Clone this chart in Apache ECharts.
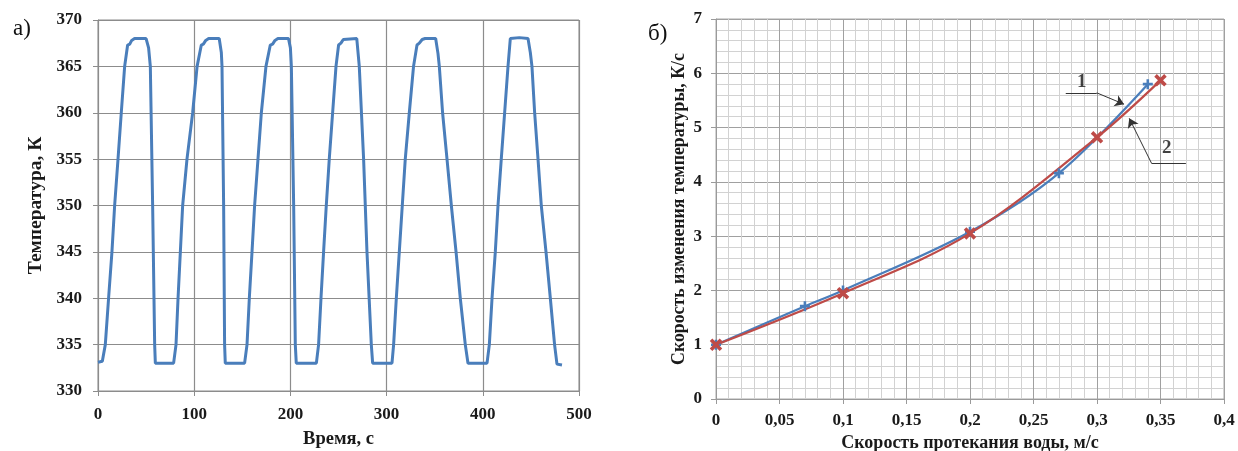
<!DOCTYPE html>
<html>
<head>
<meta charset="utf-8">
<script src="https://cdn.jsdelivr.net/npm/echarts@6/dist/echarts.min.js"></script>
<style>
  html, body { margin: 0; padding: 0; background: #fff; }
  #main { width: 1238px; height: 451px; }
</style>
</head>
<body>
<div id="main"></div>
<script>
// а) температура во времени (время, с / температура, К)
var timeSec = [
  0, 4.5, 7.6, 11, 14.5, 17.3, 20.8, 24.2, 27.7, 30.8, 33, 35, 38, 50, 52.6, 54.4, 56.8, 58.9, 59.6, 78.6,
  81.1, 83.2, 85.6, 88, 92.5, 98.4, 103, 107.4, 109.5, 112, 115, 126, 128.2, 128.9, 130.6, 131.6, 132.3, 152.4,
  154.9, 157.3, 160.1, 162.8, 166.3, 169.8, 174.6, 179.1, 181.5, 184, 187, 198, 200, 201, 203.4, 205.1, 206.1, 227,
  229.3, 231.8, 234.5, 237.3, 240.4, 243.9, 247.4, 250.1, 252.5, 255, 257, 269, 271.6, 276.1, 279.6, 284.1, 285.5, 305.6,
  307.3, 310.1, 313.2, 316.3, 319.4, 323.6, 328, 331.6, 334, 337, 340, 351, 353.4, 354.8, 358.2, 362.8, 367.3, 372.2, 376.6, 381.8, 384.6, 404.4,
  406.8, 409.6, 413, 415.8, 419.2, 422.7, 426.2, 428.6, 438, 447, 449.4, 451.1, 453.9, 457.4, 460.8, 465.7, 470.2, 474.6, 477.1, 482.3
];
var tempK = [
  333.1, 333.2, 335, 340, 345, 350, 355, 360, 365, 367.3, 367.4, 367.8, 368, 368, 367, 365, 350, 335, 333, 333,
  335, 340, 345, 350, 355, 360, 365, 367.3, 367.4, 367.8, 368, 368, 366.5, 365, 350, 335, 333, 333,
  335, 340, 345, 350, 355, 360, 365, 367.3, 367.4, 367.8, 368, 368, 367, 365, 350, 335, 333, 333,
  335, 340, 345, 350, 355, 360, 365, 367.3, 367.5, 367.9, 368, 368, 365, 355, 345, 335, 333, 333,
  335, 340, 345, 350, 355, 360, 365, 367.3, 367.5, 367.9, 368, 368, 366.4, 365, 360, 355, 350, 345, 340, 335, 333, 333,
  335, 340, 345, 350, 355, 360, 365, 368, 368.1, 368, 366.5, 365, 360, 355, 350, 345, 340, 335, 332.9, 332.8
];

// б) скорость изменения температуры от скорости воды
var speed1 = [0, 0.07, 0.1, 0.2, 0.27, 0.34];
var rate1 = [1.0, 1.71, 2.0, 3.08, 4.16, 5.8];
var speed2 = [0, 0.1, 0.2, 0.3, 0.35];
var rate2 = [1.0, 1.95, 3.05, 4.82, 5.87];

// выноски "1" и "2" (в координатах графика б)
var calloutText = [['1', 0.288, 5.84], ['2', 0.355, 4.62]];
var calloutLeader = [
  [[0.2754, 5.64], [0.2998, 5.64]],
  [[0.370, 4.34], [0.343, 4.34]]
];
var calloutArrow = [
  [[0.2998, 5.64], [0.3213, 5.43]],
  [[0.343, 4.34], [0.3254, 5.17]]
];

function zip(xs, ys) {
  var out = [];
  for (var i = 0; i < xs.length; i++) out.push([xs[i], ys[i]]);
  return out;
}

var serif = '"Liberation Serif", "Times New Roman", serif';
var plusPath = 'path://M-1.3,-5 L1.3,-5 L1.3,-1.3 L5,-1.3 L5,1.3 L1.3,1.3 L1.3,5 L-1.3,5 L-1.3,1.3 L-5,1.3 L-5,-1.3 L-1.3,-1.3 Z';
var blue = '#4A7EBB';
var red = '#BE4B48';

var labelStyle = { fontFamily: serif, fontWeight: 'bold', fontSize: 17, color: '#1a1a1a' };

var chart = echarts.init(document.getElementById('main'));

var option = {
  animation: false,
  backgroundColor: '#fff',
  title: [
    { text: 'а)', left: 8, top: 12, textStyle: { fontFamily: serif, fontWeight: 'normal', fontSize: 23, color: '#111' } },
    { text: 'б)', left: 643, top: 17, textStyle: { fontFamily: serif, fontWeight: 'normal', fontSize: 23, color: '#111' } }
  ],
  grid: [
    { left: 98, top: 20, width: 481, height: 371, show: true, borderColor: '#8c8c8c', borderWidth: 1, outerBoundsMode: 'none' },
    { left: 716, top: 19, width: 508, height: 380, show: true, borderColor: '#a8a8a8', borderWidth: 1, outerBoundsMode: 'none' }
  ],
  xAxis: [
    {
      gridIndex: 0, type: 'value', min: 0, max: 500, interval: 100,
      name: 'Время, с', nameLocation: 'middle', nameGap: 39,
      nameTextStyle: { fontFamily: serif, fontWeight: 'bold', fontSize: 18.5, color: '#1a1a1a' },
      axisLine: { lineStyle: { color: '#8c8c8c', width: 1 } },
      axisTick: { show: true, length: 5, lineStyle: { color: '#8c8c8c' } },
      axisLabel: Object.assign({ margin: 15 }, labelStyle),
      splitLine: { show: true, lineStyle: { color: '#8c8c8c', width: 1.2 } }
    },
    {
      gridIndex: 1, type: 'value', min: 0, max: 0.4, interval: 0.05,
      name: 'Скорость протекания воды, м/с', nameLocation: 'middle', nameGap: 33,
      nameTextStyle: { fontFamily: serif, fontWeight: 'bold', fontSize: 18, color: '#1a1a1a' },
      axisLine: { onZero: false, lineStyle: { color: '#9a9a9a', width: 1 } },
      axisTick: { show: true, length: 5, lineStyle: { color: '#9a9a9a' } },
      minorTick: { show: false, splitNumber: 5 },
      minorSplitLine: { show: true, lineStyle: { color: '#d2d2d2', width: 1 } },
      axisLabel: Object.assign({
        margin: 13,
        formatter: function (v) { return String(+v.toFixed(2)).replace('.', ','); }
      }, labelStyle),
      splitLine: { show: true, lineStyle: { color: '#a0a0a0', width: 1 } }
    }
  ],
  yAxis: [
    {
      gridIndex: 0, type: 'value', min: 330, max: 370, interval: 5,
      name: 'Температура, К', nameLocation: 'middle', nameGap: 52, nameRotate: 90,
      nameTextStyle: { fontFamily: serif, fontWeight: 'bold', fontSize: 19.5, color: '#1a1a1a' },
      axisLine: { show: true, lineStyle: { color: '#8c8c8c', width: 1 } },
      axisTick: { show: true, length: 5, lineStyle: { color: '#8c8c8c' } },
      axisLabel: Object.assign({ margin: 16 }, labelStyle),
      splitLine: { show: true, lineStyle: { color: '#8c8c8c', width: 1.2 } }
    },
    {
      gridIndex: 1, type: 'value', min: 0, max: 7, interval: 1,
      name: 'Скорость изменения температуры, К/с', nameLocation: 'middle', nameGap: 28, nameRotate: 90,
      nameTextStyle: { fontFamily: serif, fontWeight: 'bold', fontSize: 17.8, color: '#1a1a1a' },
      axisLine: { show: true, onZero: false, lineStyle: { color: '#9a9a9a', width: 1 } },
      axisTick: { show: true, length: 5, lineStyle: { color: '#9a9a9a' } },
      minorTick: { show: false, splitNumber: 5 },
      minorSplitLine: { show: true, lineStyle: { color: '#d2d2d2', width: 1 } },
      axisLabel: Object.assign({ margin: 14 }, labelStyle),
      splitLine: { show: true, lineStyle: { color: '#a0a0a0', width: 1 } }
    }
  ],
  series: [
    {
      type: 'line', xAxisIndex: 0, yAxisIndex: 0,
      data: zip(timeSec, tempK),
      showSymbol: false,
      lineStyle: { color: blue, width: 3 },
      itemStyle: { color: blue }
    },
    {
      type: 'line', xAxisIndex: 1, yAxisIndex: 1,
      data: zip(speed1, rate1),
      smooth: 0.35,
      symbol: plusPath, symbolSize: 10,
      lineStyle: { color: blue, width: 2.2 },
      itemStyle: { color: blue }
    },
    {
      type: 'line', xAxisIndex: 1, yAxisIndex: 1,
      data: zip(speed2, rate2),
      smooth: 0.35,
      symbol: plusPath, symbolSize: 14, symbolRotate: 45,
      lineStyle: { color: red, width: 2.2 },
      itemStyle: { color: red }
    },
    {
      type: 'lines', coordinateSystem: 'cartesian2d', xAxisIndex: 1, yAxisIndex: 1,
      data: calloutLeader.map(function (c) { return { coords: c }; }),
      symbol: 'none',
      lineStyle: { color: '#333', width: 1, opacity: 1 },
      silent: true
    },
    {
      type: 'lines', coordinateSystem: 'cartesian2d', xAxisIndex: 1, yAxisIndex: 1,
      data: calloutArrow.map(function (c) { return { coords: c }; }),
      symbol: ['none', 'arrow'], symbolSize: [6, 9],
      lineStyle: { color: '#333', width: 1, opacity: 1 },
      silent: true
    },
    {
      type: 'scatter', xAxisIndex: 1, yAxisIndex: 1,
      data: calloutText.map(function (c) { return { name: c[0], value: [c[1], c[2]] }; }),
      symbolSize: 1,
      itemStyle: { color: 'rgba(0,0,0,0)' },
      label: {
        show: true, position: 'inside', formatter: '{b}',
        fontFamily: serif, fontWeight: 'bold', fontSize: 19, color: '#111'
      },
      silent: true
    }
  ]
};

chart.setOption(option);
</script>
</body>
</html>
